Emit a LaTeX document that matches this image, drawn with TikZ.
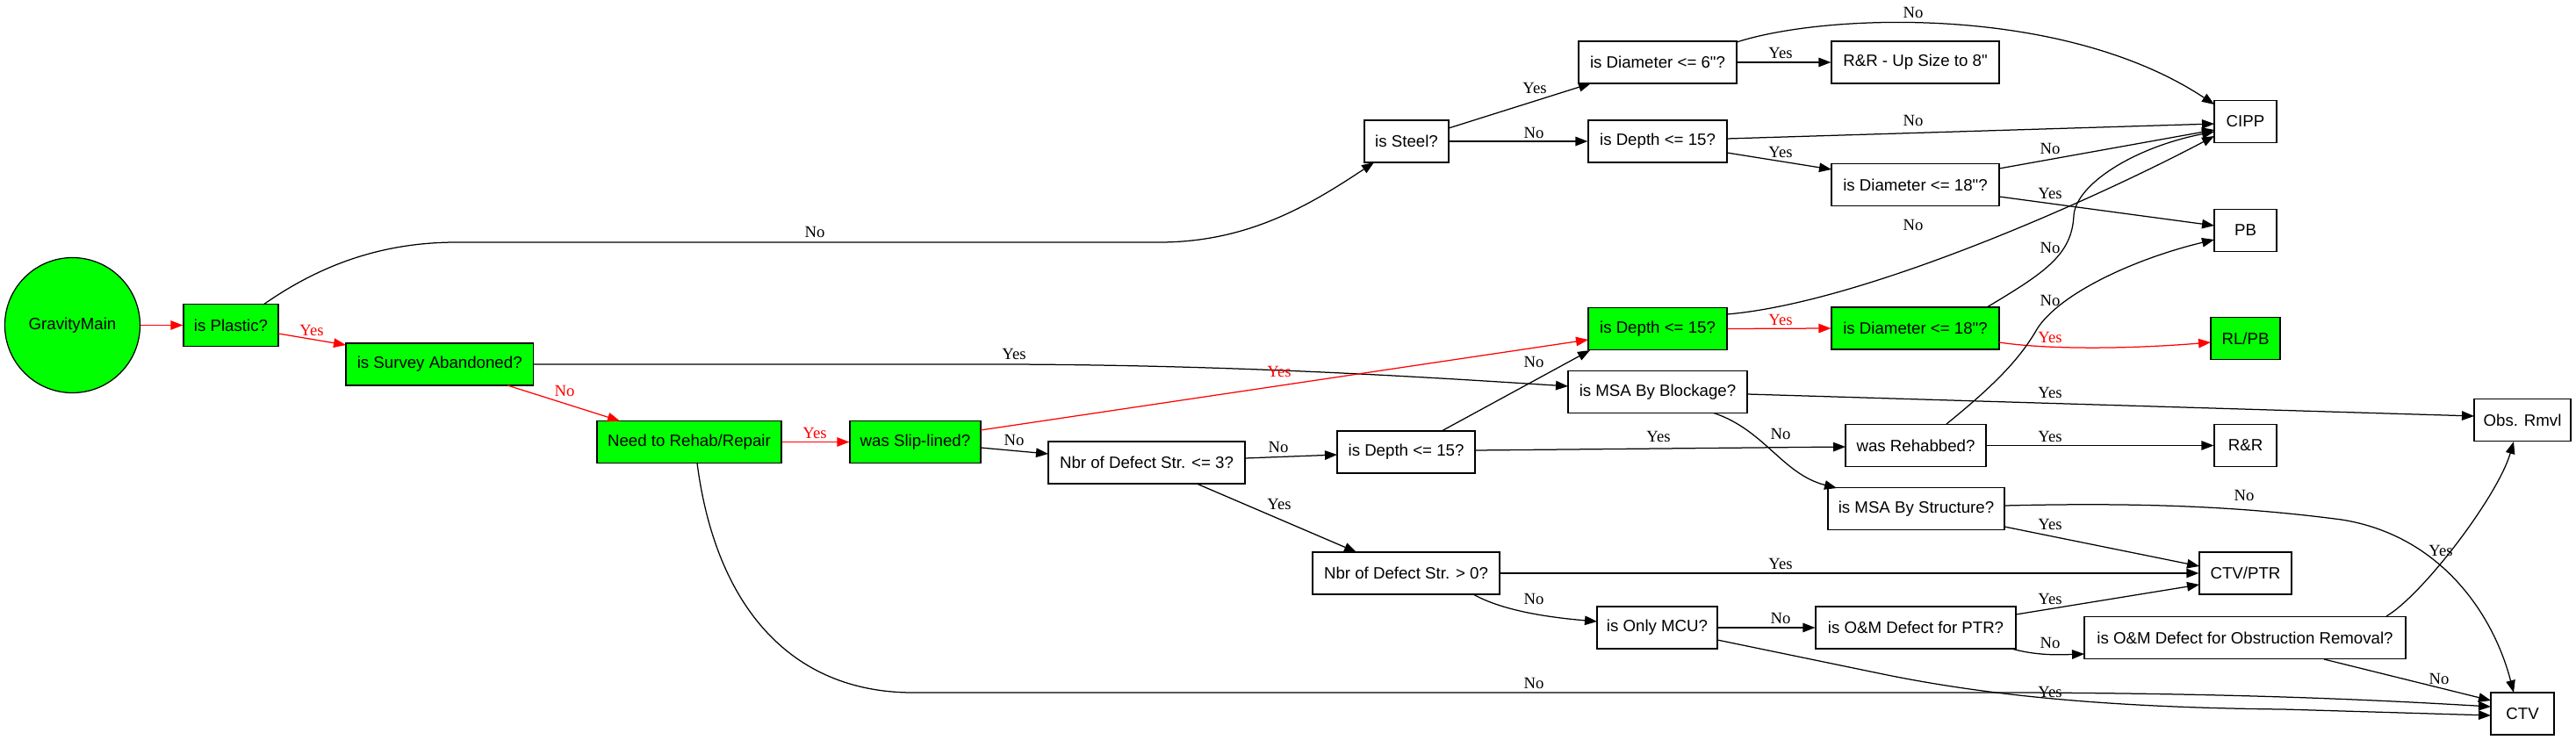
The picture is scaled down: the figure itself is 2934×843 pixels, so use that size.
\documentclass[tikz,border=0pt]{standalone}
\usepackage{fontspec}
\newfontfamily\nodefont{Liberation Sans}
\newfontfamily\lblfont{Liberation Serif}
\usetikzlibrary{arrows.meta,calc}
\definecolor{gvgreen}{RGB}{0,255,0}
\begin{document}
\begin{tikzpicture}[x=1pt,y=-1pt,
  box/.style={draw=black, rectangle, line width=1.25pt, minimum height=48pt, inner sep=0pt, font=\nodefont\fontsize{18.67pt}{22pt}\selectfont, text=black},
  gbox/.style={box, fill=gvgreen},
  wbox/.style={box, fill=white},
  lbl/.style={font=\lblfont\fontsize{18.67pt}{22pt}\selectfont, inner sep=0pt, text=black},
  rlbl/.style={lbl, text=red},
  edge/.style={line width=1.25pt, draw=black, -{Triangle[length=14pt,width=10.5pt]}},
  redge/.style={edge, draw=red},
]
\useasboundingbox (0,0) rectangle (2934,843);
\fill[white] (0,0) rectangle (2934,843);

% nodes
\node[gbox, circle, minimum size=154pt] (gm) at (82.5,370.5) {GravityMain};
\node[gbox, minimum width=108pt] (plastic) at (263,370.5) {is Plastic?};
\node[gbox, minimum width=213.5pt] (survey) at (500.75,415) {is Survey Abandoned?};
\node[gbox, minimum width=210pt] (ntor) at (785,503.5) {Need to Rehab/Repair};
\node[gbox, minimum width=149pt] (slip) at (1042.5,503.5) {was Slip-lined?};
\node[wbox, minimum width=224pt] (nbr3) at (1306,527) {Nbr of Defect Str. <= 3?};
\node[wbox, minimum width=96pt] (steel) at (1602,161) {is Steel?};
\node[wbox, minimum width=157pt] (depthlow) at (1601.5,515) {is Depth <= 15?};
\node[wbox, minimum width=213pt] (nbr0) at (1601.5,653) {Nbr of Defect Str. > 0?};
\node[wbox, minimum width=180pt] (diam6) at (1888,71) {is Diameter <= 6"?};
\node[wbox, minimum width=158pt] (depthup) at (1888,161) {is Depth <= 15?};
\node[gbox, minimum width=158pt] (depthg) at (1888,374.5) {is Depth <= 15?};
\node[wbox, minimum width=204pt] (msab) at (1888,446.5) {is MSA By Blockage?};
\node[wbox, minimum width=137pt] (mcu) at (1887.5,715) {is Only MCU?};
\node[wbox, minimum width=191pt] (rrup) at (2181.5,71) {R\&R - Up Size to 8"};
\node[wbox, minimum width=191pt] (diam18u) at (2181.5,210.5) {is Diameter <= 18"?};
\node[gbox, minimum width=191pt] (diam18g) at (2181.5,374) {is Diameter <= 18"?};
\node[wbox, minimum width=160pt] (rehab) at (2182,507.5) {was Rehabbed?};
\node[wbox, minimum width=201pt] (msas) at (2182.5,579.5) {is MSA By Structure?};
\node[wbox, minimum width=228pt] (omptr) at (2182,715) {is O\&M Defect for PTR?};
\node[wbox, minimum width=71pt] (cipp) at (2557.5,138.5) {CIPP};
\node[wbox, minimum width=71pt] (pb) at (2557.5,262.5) {PB};
\node[gbox, minimum width=79pt] (rlpb) at (2557.5,385.5) {RL/PB};
\node[wbox, minimum width=71pt] (rr) at (2557.5,507.5) {R\&R};
\node[wbox, minimum width=105pt] (ctvptr) at (2557.5,653) {CTV/PTR};
\node[wbox, minimum width=366pt] (omobs) at (2557,726.5) {is O\&M Defect for Obstruction Removal?};
\node[wbox, minimum width=110pt] (obs) at (2873,478.5) {Obs. Rmvl};
\node[wbox, minimum width=72pt] (ctv) at (2873,813) {CTV};

% edges
\draw[redge] (gm.east) -- (plastic.west);
\draw[redge] ($(plastic)+(54,9.5)$) -- ($(survey)+(-106.75,-22)$) node[rlbl, at={(355,376)}] (l2) {Yes};
\draw[edge] ($(plastic)+(37,-23.5)$) .. controls (360,305) and (430,276) .. (520,276) -- (1320,276) .. controls (1420,276) and (1490,235) .. ($(steel)+(-37,24)$) node[lbl, at={(928,264)}] (l3) {No};
\draw[edge] (survey.east) -- (1150,415) .. controls (1400,416) and (1600,428) .. ($(msab)+(-102,-6.5)$) node[lbl, at={(1155,403)}] (l4) {Yes};
\draw[redge] ($(survey)+(77.25,24)$) -- ($(ntor)+(-79,-24)$) node[rlbl, at={(643,445)}] (l5) {No};
\draw[redge] (ntor.east) -- (slip.west) node[rlbl, at={(928,493)}] (l6) {Yes};
\draw[edge] ($(ntor)+(9,24)$) .. controls (815,690) and (900,789) .. (1040,789) -- (2300,789) .. controls (2550,790) and (2700,797) .. ($(ctv)+(-36,-8)$) node[lbl, at={(1747,778)}] (l7) {No};
\draw[redge] ($(slip)+(74.5,-13.5)$) -- ($(depthg)+(-79,12.5)$) node[rlbl, at={(1457,423)}] (l8) {Yes};
\draw[edge] ($(slip)+(74.5,6.5)$) -- ($(nbr3)+(-112,-10)$) node[lbl, at={(1155,501)}] (l9) {No};
\draw[edge] ($(nbr3)+(112,-5)$) -- ($(depthlow)+(-78.5,3)$) node[lbl, at={(1456,509)}] (l10) {No};
\draw[edge] ($(nbr3)+(57,24)$) -- ($(nbr0)+(-56.5,-24)$) node[lbl, at={(1457,574)}] (l11) {Yes};
\draw[edge] ($(steel)+(48,-15)$) -- ($(diam6)+(-76,24)$) node[lbl, at={(1748,100)}] (l12) {Yes};
\draw[edge] (steel.east) -- (depthup.west) node[lbl, at={(1747,151)}] (l13) {No};
\draw[edge] (diam6.east) -- (rrup.west) node[lbl, at={(2028,60)}] (l14) {Yes};
\draw[edge] ($(diam6)+(90,-23)$) .. controls (2080,15) and (2350,5) .. ($(cipp)+(-35.5,-19.5)$) node[lbl, at={(2179,14)}] (l15) {No};
\draw[edge] ($(depthup)+(79,-3)$) -- ($(cipp)+(-35.5,2.5)$) node[lbl, at={(2179,137)}] (l16) {No};
\draw[edge] ($(depthup)+(79,13)$) -- ($(diam18u)+(-95.5,-17.5)$) node[lbl, at={(2028,173)}] (l17) {Yes};
\draw[edge] ($(diam18u)+(95.5,-18.5)$) -- ($(cipp)+(-35.5,9.5)$) node[lbl, at={(2335,169)}] (l18) {No};
\draw[edge] ($(diam18u)+(95.5,13.5)$) -- ($(pb)+(-35.5,-5.5)$) node[lbl, at={(2335,220)}] (l19) {Yes};
\draw[edge] ($(depthg)+(79,-16.5)$) .. controls (2120,345) and (2380,230) .. ($(cipp)+(-35.5,16.5)$) node[lbl, at={(2179,256)}] (l20) {No};
\draw[redge] (depthg.east) -- (diam18g.west) node[rlbl, at={(2028,364)}] (l21) {Yes};
\draw[edge] ($(diam18g)+(81.5,-24)$) .. controls (2330,310) and (2360,290) .. (2362,245) .. controls (2365,210) and (2430,168) .. ($(cipp)+(-35.5,11.5)$) node[lbl, at={(2335,282)}] (l22) {No};
\draw[redge] ($(diam18g)+(95.5,16)$) .. controls (2330,398) and (2420,398) .. ($(rlpb)+(-39.5,4.5)$) node[rlbl, at={(2335,384)}] (l23) {Yes};
\draw[edge] ($(rehab)+(35,-24.5)$) .. controls (2270,440) and (2300,410) .. (2320,375) .. controls (2345,335) and (2430,295) .. ($(pb)+(-35.5,10.5)$) node[lbl, at={(2335,342)}] (l24) {No};
\draw[edge] ($(depthlow)+(40.5,-24)$) -- ($(depthg)+(-77,24.5)$) node[lbl, at={(1747,412)}] (l25) {No};
\draw[edge] ($(depthlow)+(78.5,-2)$) -- ($(rehab)+(-80,1.5)$) node[lbl, at={(1889,497)}] (l26) {Yes};
\draw[edge] ($(msab)+(102,2.5)$) -- ($(obs)+(-55,-4.5)$) node[lbl, at={(2335,447)}] (l27) {Yes};
\draw[edge] ($(msab)+(64,24)$) .. controls (2010,490) and (2030,540) .. ($(msas)+(-90.5,-23.5)$) node[lbl, at={(2028,494)}] (l28) {No};
\draw[edge] (rehab.east) -- (rr.west) node[lbl, at={(2335,497)}] (l29) {Yes};
\draw[edge] ($(msas)+(100.5,20.5)$) -- ($(ctvptr)+(-52.5,-8)$) node[lbl, at={(2335,597)}] (l30) {Yes};
\draw[edge] ($(msas)+(100.5,-3.5)$) .. controls (2450,572) and (2560,578) .. (2667,592) .. controls (2780,610) and (2840,700) .. ($(ctv)+(-10,-24)$) node[lbl, at={(2556,564)}] (l31) {No};
\draw[edge] (nbr0.east) -- (ctvptr.west) node[lbl, at={(2028,642)}] (l32) {Yes};
\draw[edge] ($(nbr0)+(76.5,24)$) .. controls (1710,695) and (1760,703) .. ($(mcu)+(-68.5,-7)$) node[lbl, at={(1747,682)}] (l33) {No};
\draw[edge] (mcu.east) -- (omptr.west) node[lbl, at={(2028,704)}] (l34) {No};
\draw[edge] ($(mcu)+(68.5,14)$) -- (2140,767) .. controls (2260,792) and (2400,806) .. (2600,808) -- ($(ctv)+(-36,2)$) node[lbl, at={(2335,788)}] (l35) {Yes};
\draw[edge] ($(omptr)+(114,-15)$) -- ($(ctvptr)+(-52.5,13)$) node[lbl, at={(2335,682)}] (l36) {Yes};
\draw[edge] ($(omptr)+(109,24)$) .. controls (2320,747) and (2345,746) .. ($(omobs)+(-183,18.5)$) node[lbl, at={(2335,732)}] (l37) {No};
\draw[edge] ($(omobs)+(161,-24.5)$) .. controls (2760,677) and (2845,565) .. ($(obs)+(-10,24.5)$) node[lbl, at={(2780,627)}] (l38) {Yes};
\draw[edge] ($(omobs)+(90,24.5)$) -- ($(ctv)+(-36,-15)$) node[lbl, at={(2778,773)}] (l39) {No};
\end{tikzpicture}
\end{document}
